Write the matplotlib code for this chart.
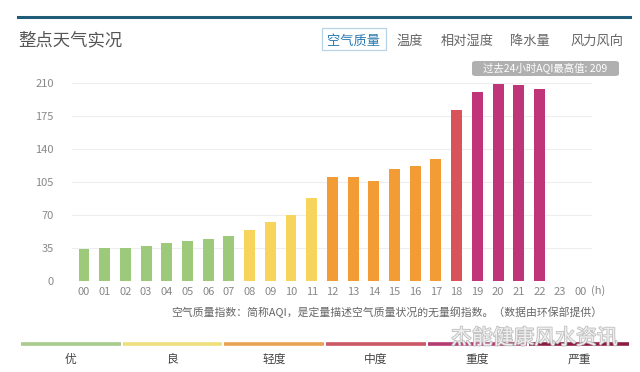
import matplotlib
matplotlib.use("Agg")
import matplotlib.pyplot as plt
import matplotlib.patheffects as pe
from matplotlib.patches import FancyBboxPatch, Rectangle

plt.rcParams["font.family"] = ["Noto Sans CJK SC", "DejaVu Sans"]

# ── data ─────────────────────────────────────────────────────────────────────
hours = ["00", "01", "02", "03", "04", "05", "06", "07", "08", "09", "10", "11",
         "12", "13", "14", "15", "16", "17", "18", "19", "20", "21", "22", "23", "00"]
aqi = [34, 35, 35, 37, 40, 43, 45, 48, 54, 63, 70, 88,
       111, 111, 106, 119, 122, 130, 182, 201, 209, 208, 204]
y_ticks = [0, 35, 70, 105, 140, 175, 210]

levels = ["优", "良", "轻度", "中度", "重度", "严重"]
level_limits = [50, 100, 150, 200, 300]
bar_colors = ["#9dc97a", "#f7d55c", "#f39c35", "#d9545a", "#c0347a", "#8c1c44"]
legend_colors = ["#a8ca8c", "#eedf7c", "#e9a252", "#cc5866", "#b43c72", "#8c1c44"]

tabs = ["空气质量", "温度", "相对湿度", "降水量", "风力风向"]
tab_x = [354, 410, 467, 530, 597]

W, H = 640, 372


def fx(px):
    return px / W


def fy(py):
    return 1 - py / H


def level_of(v):
    for i, lim in enumerate(level_limits):
        if v <= lim:
            return i
    return len(level_limits)


fig = plt.figure(figsize=(W / 100, H / 100), dpi=100)
fig.patch.set_facecolor("white")

# top rule + title
fig.add_artist(plt.Line2D([fx(18), fx(630)], [fy(17), fy(17)],
                          color="#1f5c78", lw=2.2))
fig.text(fx(18), fy(40), "整点天气实况", fontsize=12.5, color="#555555",
         va="center", ha="left")

# tabs (shared baseline so they line up)
for name, x in zip(tabs, tab_x):
    fig.text(fx(x), fy(44.5), name, fontsize=9.5, va="baseline", ha="center",
             color="#2a7ab0" if name == "空气质量" else "#666666")
fig.add_artist(Rectangle((fx(322), fy(50)), fx(386) - fx(322), fy(28) - fy(50),
                         transform=fig.transFigure, fill=False,
                         ec="#b9d3e6", lw=0.9))

# ── bar chart ────────────────────────────────────────────────────────────────
ax = fig.add_axes([fx(72), fy(281), fx(592) - fx(72), fy(83.3) - fy(281)])
xs = list(range(len(aqi)))
colors = [bar_colors[level_of(v)] for v in aqi]
ax.bar(xs, aqi, width=0.53, color=colors, zorder=3, clip_on=False)

ax.set_xlim(-0.58, 24.54)
ax.set_ylim(0, 210)
ax.set_yticks(y_ticks)
ax.set_yticklabels([str(t) for t in y_ticks])
ax.grid(axis="y", color="#eeeeee", lw=0.8, zorder=0)
ax.set_xticks(range(len(hours)))
ax.set_xticklabels(hours)
for s in ax.spines.values():
    s.set_visible(False)
ax.tick_params(axis="both", length=0, colors="#888888", labelsize=8)
ax.tick_params(axis="y", pad=13)
ax.tick_params(axis="x", pad=4)
ax.text(24.85, -10.3, "(h)", fontsize=8, color="#888888", ha="center", va="center")

# badge with max value
peak = max(aqi)
fig.add_artist(FancyBboxPatch((fx(472), fy(76)), fx(619) - fx(472), fy(61) - fy(76),
                              boxstyle="round,pad=0,rounding_size=0.006",
                              transform=fig.transFigure, fc="#b0b0b0", ec="none"))
fig.text(fx(545.5), fy(68.5), f"过去24小时AQI最高值: {peak}", fontsize=7.5,
         color="white", ha="center", va="center")

# caption
fig.text(fx(602), fy(312),
         "空气质量指数：简称AQI，是定量描述空气质量状况的无量纲指数。（数据由环保部提供）",
         fontsize=7.8, color="#666666", ha="right", va="center")

# ── level legend ─────────────────────────────────────────────────────────────
seg_w = (630 - 20) / len(levels)
for i, (lab, c) in enumerate(zip(levels, legend_colors)):
    x0 = 20 + i * seg_w + 1
    x1 = 20 + (i + 1) * seg_w - 1
    fig.add_artist(plt.Line2D([fx(x0), fx(x1)], [fy(344), fy(344)],
                              color=c, lw=2.6, solid_capstyle="butt"))
    fig.text(fx((x0 + x1) / 2), fy(359), lab, fontsize=8.5, color="#444444",
             ha="center", va="center")

# watermark
fig.text(fx(618), fy(338), "杰能健康风水资讯", fontsize=15, color="#f4f4f4",
         ha="right", va="center", alpha=0.9,
         path_effects=[pe.withStroke(linewidth=1.2, foreground="#b8b8b8")])

plt.savefig("out.png", dpi=100)
